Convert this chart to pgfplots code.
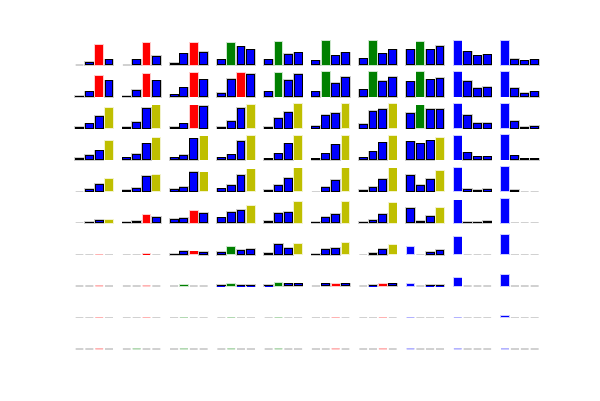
\documentclass[border=0pt]{standalone}
\usepackage{pgfplots}
\pgfplotsset{compat=1.18}
\definecolor{c0}{RGB}{0,0,255}
\definecolor{c1}{RGB}{0,128,0}
\definecolor{c2}{RGB}{255,0,0}
\definecolor{c3}{RGB}{191,191,0}
\pgfplotsset{
  cellax/.style={ybar, bar width=0.8, x=9.85pt, y=1pt, xmin=-0.6, xmax=3.6,
    ymin=0, ymax=26, hide axis, clip=false, anchor=south west},
}
\newcommand\onebar[3]{%
  \ifnum#1=#3\relax
    \addplot[bar shift=0pt, fill=c#1, draw=none, preaction={draw=c#1!20, line width=1.6pt}] coordinates {(#1,#2)};%
  \else
    \ifdim#2pt<0.05pt\relax
      \addplot[bar shift=0pt, fill=none, draw=black!18, line width=1.3pt] coordinates {(#1,#2)};%
    \else
      \addplot[bar shift=0pt, fill=c0, draw=black, line width=1pt, preaction={draw=black!20, line width=2.5pt}] coordinates {(#1,#2)};%
    \fi
  \fi}
% \cell{col}{row}{v0}{v1}{v2}{v3}{index of highlighted bar}
\newcommand\cell[7]{%
  \begin{axis}[cellax, at={({(73.6+47.28*(#1-1))*1pt},{(335-31.55*(#2-1))*1pt})}]
  \onebar{0}{#3}{#7}\onebar{1}{#4}{#7}\onebar{2}{#5}{#7}\onebar{3}{#6}{#7}
  \end{axis}}
\begin{document}
\begin{tikzpicture}
\useasboundingbox (0,0) rectangle (600pt,400pt);
% row 1
\cell{1}{1}{0}{2.3}{19.7}{5}{2}
\cell{2}{1}{0}{5}{22.3}{8.3}{2}
\cell{3}{1}{1.3}{11}{22.3}{12.3}{2}
\cell{4}{1}{5}{22.3}{18}{15}{1}
\cell{5}{1}{5}{23.3}{10.3}{12}{1}
\cell{6}{1}{4}{24.3}{9}{12}{1}
\cell{7}{1}{6}{24.3}{11}{15}{1}
\cell{8}{1}{15}{23.3}{15}{18.3}{1}
\cell{9}{1}{24.3}{13}{9}{10}{0}
\cell{10}{1}{24.3}{5.7}{4}{5}{0}
% row 2
\cell{1}{2}{0.5}{4.7}{20.7}{15.7}{2}
\cell{2}{2}{0.5}{6.3}{23}{15.7}{2}
\cell{3}{2}{1.7}{8.7}{24}{16.7}{2}
\cell{4}{2}{3.3}{17.3}{24}{22.3}{2}
\cell{5}{2}{4.7}{24}{16.3}{22.3}{1}
\cell{6}{2}{4.7}{24.7}{13.3}{19}{1}
\cell{7}{2}{6.7}{24.7}{15.3}{19}{1}
\cell{8}{2}{14.7}{24.7}{16.7}{18.3}{1}
\cell{9}{2}{24.7}{15.3}{8.3}{9.3}{0}
\cell{10}{2}{24.7}{8.3}{3.3}{4.7}{0}
% row 3
\cell{1}{3}{1}{4.3}{11.7}{20}{3}
\cell{2}{3}{1}{5.7}{19.7}{22.7}{3}
\cell{3}{3}{1}{4.3}{22.7}{21.7}{2}
\cell{4}{3}{1}{6.7}{19.7}{23}{3}
\cell{5}{3}{1}{9.7}{15.7}{24}{3}
\cell{6}{3}{2}{12.7}{14.7}{24}{3}
\cell{7}{3}{3.7}{16.7}{18.7}{24}{3}
\cell{8}{3}{14.7}{22.7}{18.7}{18.7}{1}
\cell{9}{3}{24}{12.7}{4.7}{4.7}{0}
\cell{10}{3}{24}{6.7}{0.7}{2}{0}
% row 4
\cell{1}{4}{1}{4}{8.7}{19}{3}
\cell{2}{4}{1.7}{5.3}{15.7}{21.7}{3}
\cell{3}{4}{1.7}{4}{20.7}{23.3}{3}
\cell{4}{4}{1.7}{4.7}{18.3}{24}{3}
\cell{5}{4}{0.7}{5.7}{15.7}{24}{3}
\cell{6}{4}{0.7}{5.7}{14.7}{24}{3}
\cell{7}{4}{1.7}{7.7}{16.7}{24}{3}
\cell{8}{4}{17.7}{15.7}{18.7}{22}{3}
\cell{9}{4}{24}{6.7}{2.7}{2.7}{0}
\cell{10}{4}{25}{3.7}{0.7}{0.7}{0}
% row 5
\cell{1}{5}{0}{2}{6.7}{12}{3}
\cell{2}{5}{1}{2.7}{14.7}{16}{3}
\cell{3}{5}{1.7}{3.7}{18.7}{18.7}{3}
\cell{4}{5}{2.3}{5.7}{15.7}{21.7}{3}
\cell{5}{5}{0.7}{5.7}{12.7}{22.7}{3}
\cell{6}{5}{0}{3.7}{10.7}{22.7}{3}
\cell{7}{5}{1}{3.7}{11.7}{22.7}{3}
\cell{8}{5}{15.7}{5.7}{11.7}{20}{3}
\cell{9}{5}{23}{1.7}{0.7}{1.7}{0}
\cell{10}{5}{24}{0.7}{0}{0}{0}
% row 6
\cell{1}{6}{0}{0.7}{2.7}{2.7}{3}
\cell{2}{6}{0.7}{1.7}{8}{5.7}{2}
\cell{3}{6}{3.7}{4.7}{12}{9.3}{2}
\cell{4}{6}{5}{10.7}{12.7}{16.7}{3}
\cell{5}{6}{1.7}{9.7}{10.7}{21}{3}
\cell{6}{6}{0.7}{5.7}{8.7}{21}{3}
\cell{7}{6}{0.7}{2.7}{8.7}{20}{3}
\cell{8}{6}{14.7}{1.7}{6.7}{15}{3}
\cell{9}{6}{22.3}{0.7}{0.7}{1.7}{0}
\cell{10}{6}{24}{0}{0}{0}{0}
% row 7
\cell{1}{7}{0}{0}{0}{0}{2}
\cell{2}{7}{0}{0}{0.7}{0}{2}
\cell{3}{7}{0.3}{2.7}{3}{1.7}{2}
\cell{4}{7}{1.7}{7.7}{4.3}{5.3}{1}
\cell{5}{7}{1.3}{10}{6}{10.7}{3}
\cell{6}{7}{0.3}{5.3}{6}{11.7}{3}
\cell{7}{7}{0}{1.3}{5.3}{9.7}{3}
\cell{8}{7}{7.7}{0}{2}{4.3}{0}
\cell{9}{7}{17.7}{0}{0}{0}{0}
\cell{10}{7}{19.3}{0}{0}{0}{0}
% row 8
\cell{1}{8}{0}{0}{0}{0}{2}
\cell{2}{8}{0}{0}{0}{0}{2}
\cell{3}{8}{0}{0.6}{0}{0}{1}
\cell{4}{8}{0.3}{2}{0.3}{0.3}{1}
\cell{5}{8}{0.3}{3.3}{2}{2}{1}
\cell{6}{8}{0}{2}{2}{2}{2}
\cell{7}{8}{0}{0.3}{2}{2}{2}
\cell{8}{8}{2}{0}{0.3}{0.3}{0}
\cell{9}{8}{8}{0}{0}{0}{0}
\cell{10}{8}{11}{0}{0}{0}{0}
% row 9
\cell{1}{9}{0}{0}{0}{0}{2}
\cell{2}{9}{0}{0}{0}{0}{2}
\cell{3}{9}{0}{0}{0}{0}{1}
\cell{4}{9}{0}{0}{0}{0}{1}
\cell{5}{9}{0}{0}{0}{0}{1}
\cell{6}{9}{0}{0}{0}{0}{2}
\cell{7}{9}{0}{0}{0}{0}{2}
\cell{8}{9}{0}{0}{0}{0}{0}
\cell{9}{9}{0}{0}{0}{0}{0}
\cell{10}{9}{1.3}{0}{0}{0}{0}
% row 10
\cell{1}{10}{0}{0}{0}{0}{2}
\cell{2}{10}{0}{0}{0}{0}{1}
\cell{3}{10}{0}{0}{0}{0}{1}
\cell{4}{10}{0}{0}{0}{0}{1}
\cell{5}{10}{0}{0}{0}{0}{1}
\cell{6}{10}{0}{0}{0}{0}{2}
\cell{7}{10}{0}{0}{0}{0}{2}
\cell{8}{10}{0}{0}{0}{0}{0}
\cell{9}{10}{0}{0}{0}{0}{0}
\cell{10}{10}{0}{0}{0}{0}{0}
\end{tikzpicture}
\end{document}
